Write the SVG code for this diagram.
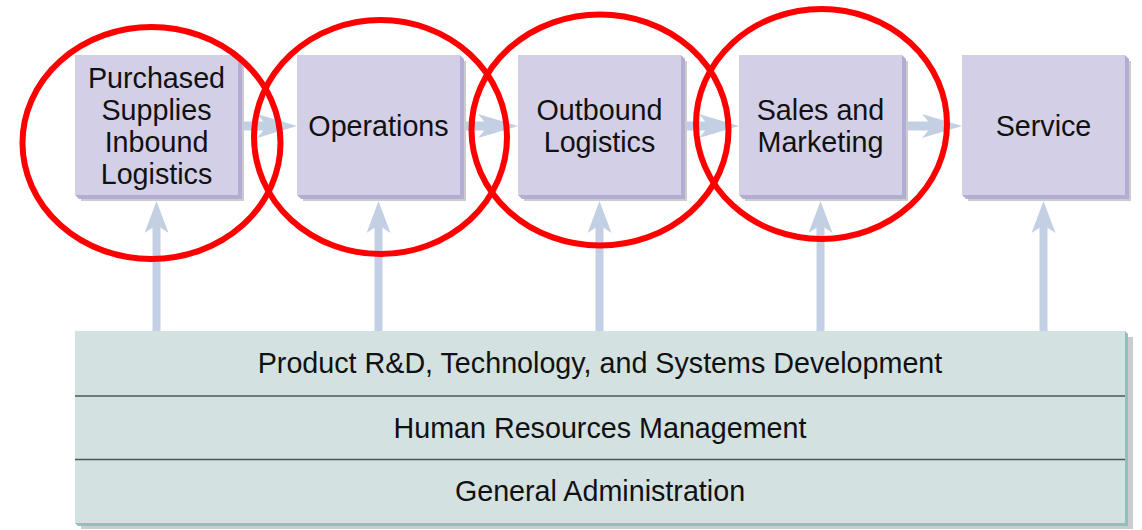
<svg xmlns="http://www.w3.org/2000/svg" width="1142" height="530" viewBox="0 0 1142 530">
<style>
.box{fill:#d3cfe6}
.edge{fill:#b2add2}
.shd{fill:#cccccc}
.lbl{font-family:"Liberation Sans",Arial,sans-serif;font-size:28.7px;fill:#111;text-anchor:middle}
.conn{stroke:#c3cfe3;fill:none}
.ring{fill:none;stroke:#ff0000;stroke-width:6}
.div{stroke:#4d5757;stroke-width:1.6}
</style>
<defs>
<marker id="hh" markerUnits="userSpaceOnUse" markerWidth="40" markerHeight="24" viewBox="0 0 40 24" refX="10" refY="12" orient="auto">
<path d="M0,0 L40,12 L0,24 L10,12 Z" fill="#c3cfe3"/>
</marker>
<marker id="vh" markerUnits="userSpaceOnUse" markerWidth="32" markerHeight="24" viewBox="0 0 32 24" refX="8" refY="12" orient="auto">
<path d="M0,0 L32,12 L0,24 L8,12 Z" fill="#c3cfe3"/>
</marker>
</defs>
<rect width="1142" height="530" fill="#ffffff"/>
<g id="connectors">
<line class="conn" stroke-width="9" x1="241" y1="126" x2="267" y2="126" marker-end="url(#hh)"/>
<line class="conn" stroke-width="9" x1="463" y1="126" x2="488" y2="126" marker-end="url(#hh)"/>
<line class="conn" stroke-width="9" x1="684" y1="126" x2="709" y2="126" marker-end="url(#hh)"/>
<line class="conn" stroke-width="9" x1="905" y1="126" x2="932" y2="126" marker-end="url(#hh)"/>
<line class="conn" stroke-width="8" x1="156.5" y1="332" x2="156.5" y2="225" marker-end="url(#vh)"/>
<line class="conn" stroke-width="8" x1="378.5" y1="332" x2="378.5" y2="225" marker-end="url(#vh)"/>
<line class="conn" stroke-width="8" x1="599.5" y1="332" x2="599.5" y2="225" marker-end="url(#vh)"/>
<line class="conn" stroke-width="8" x1="820.5" y1="332" x2="820.5" y2="225" marker-end="url(#vh)"/>
<line class="conn" stroke-width="8" x1="1043.5" y1="332" x2="1043.5" y2="225" marker-end="url(#vh)"/>
</g>
<g id="inbound">
<rect class="shd" x="81" y="61" width="163" height="140"/>
<polygon class="edge" points="238,55 242,59 242,199 79,199 75,195"/>
<rect class="box" x="75" y="55" width="163" height="140"/>
<text class="lbl" x="156.5" y="88">Purchased</text>
<text class="lbl" x="156.5" y="120">Supplies</text>
<text class="lbl" x="156.5" y="152">Inbound</text>
<text class="lbl" x="156.5" y="184">Logistics</text>
</g>
<g id="operations">
<rect class="shd" x="303" y="61" width="163" height="140"/>
<polygon class="edge" points="460,55 464,59 464,199 301,199 297,195"/>
<rect class="box" x="297" y="55" width="163" height="140"/>
<text class="lbl" x="378.5" y="136">Operations</text>
</g>
<g id="outbound">
<rect class="shd" x="524" y="61" width="163" height="140"/>
<polygon class="edge" points="681,55 685,59 685,199 522,199 518,195"/>
<rect class="box" x="518" y="55" width="163" height="140"/>
<text class="lbl" x="599.5" y="120">Outbound</text>
<text class="lbl" x="599.5" y="152">Logistics</text>
</g>
<g id="sales">
<rect class="shd" x="745" y="61" width="163" height="140"/>
<polygon class="edge" points="902,55 906,59 906,199 743,199 739,195"/>
<rect class="box" x="739" y="55" width="163" height="140"/>
<text class="lbl" x="820.5" y="120">Sales and</text>
<text class="lbl" x="820.5" y="152">Marketing</text>
</g>
<g id="service">
<rect class="shd" x="968" y="61" width="163" height="140"/>
<polygon class="edge" points="1125,55 1129,59 1129,199 966,199 962,195"/>
<rect class="box" x="962" y="55" width="163" height="140"/>
<text class="lbl" x="1043.5" y="136">Service</text>
</g>
<g id="support">
<rect x="81" y="337" width="1052" height="192" fill="#cccccc"/>
<polygon points="1125,331 1128,334 1128,526 78,526 75,523" fill="#8cc1bc"/>
<rect x="75" y="331" width="1050" height="192" fill="#d3e1e1"/>
<line class="div" x1="75" y1="396" x2="1125" y2="396"/>
<line class="div" x1="75" y1="459.5" x2="1125" y2="459.5"/>
<text class="lbl" x="600" y="373">Product R&amp;D, Technology, and Systems Development</text>
<text class="lbl" x="600" y="438">Human Resources Management</text>
<text class="lbl" x="600" y="501">General Administration</text>
</g>
<g id="highlights">
<ellipse class="ring" cx="151.5" cy="143" rx="129" ry="116"/>
<ellipse class="ring" cx="380.5" cy="137" rx="126.5" ry="117"/>
<ellipse class="ring" cx="600" cy="130" rx="128.5" ry="115.5"/>
<ellipse class="ring" cx="821.5" cy="124" rx="125.5" ry="115"/>
</g>
</svg>
